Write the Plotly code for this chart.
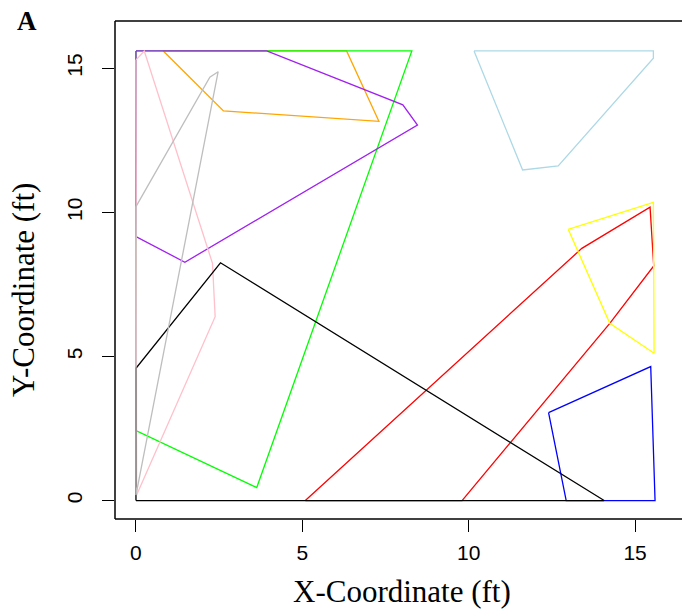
import plotly.graph_objects as go

# ---- data (ft) ----
red_x = [5.09, 13.40, 15.45, 15.56, 14.24, 9.80]
red_y = [0.00, 8.75, 10.18, 8.14, 6.15, 0.00]
yellow_x = [12.99, 15.55, 15.57, 14.24]
yellow_y = [9.41, 10.35, 5.11, 6.15]
blue_x = [12.40, 15.47, 15.60, 12.93]
blue_y = [3.05, 4.65, 0.00, 0.00]
lightblue_x = [10.16, 15.55, 15.55, 12.69, 11.62]
lightblue_y = [15.60, 15.60, 15.35, 11.61, 11.47]
orange_x = [0.82, 6.33, 7.30, 2.63]
orange_y = [15.60, 15.60, 13.16, 13.52]
green_x = [0.00, 8.29, 3.63, 0.00]
green_y = [15.60, 15.60, 0.45, 2.43]
purple_x = [0.00, 3.93, 8.02, 8.46, 1.47, 0.00]
purple_y = [15.60, 15.60, 13.73, 13.03, 8.27, 9.16]
pink_x = [0.00, 0.25, 2.30, 2.38, 0.02]
pink_y = [15.29, 15.60, 8.23, 6.38, 0.19]
black_x = [0.00, 0.00, 2.54, 14.07]
black_y = [0.00, 4.59, 8.25, 0.00]
gray_x = [0.00, 2.22, 2.47, 0.00]
gray_y = [10.20, 14.69, 14.88, 0.19]

polygons = [
    ("red", red_x, red_y, "#FF0000"),
    ("yellow", yellow_x, yellow_y, "#FFFF00"),
    ("blue", blue_x, blue_y, "#0000FF"),
    ("lightblue", lightblue_x, lightblue_y, "#ADD8E6"),
    ("orange", orange_x, orange_y, "#FFA500"),
    ("green", green_x, green_y, "#00FF00"),
    ("purple", purple_x, purple_y, "#A020F0"),
    ("pink", pink_x, pink_y, "#FFC0CB"),
    ("black", black_x, black_y, "#000000"),
    ("gray", gray_x, gray_y, "#BEBEBE"),
]

tick_vals = [0, 5, 10, 15]
tick_text = ["0", "5", "10", "15"]

W, H = 682, 616
L, R, T, B = 115, 0, 21, 97

fig = go.Figure()
for name, xs, ys, col in polygons:
    fig.add_trace(go.Scatter(
        x=xs + [xs[0]], y=ys + [ys[0]], mode="lines", name=name,
        line=dict(color=col, width=1.3), hoverinfo="skip", showlegend=False))

axis_common = dict(
    showgrid=False, zeroline=False, showline=False,
    ticks="outside", ticklen=12, tickwidth=1, tickcolor="black",
    tickvals=tick_vals, ticktext=tick_text,
    tickfont=dict(family="Liberation Sans, Arial, sans-serif", size=21, color="black"),
)

fig.update_layout(
    width=W, height=H,
    margin=dict(l=L, r=R, t=T, b=B, pad=0),
    paper_bgcolor="white", plot_bgcolor="white",
    xaxis=dict(range=[-0.63, 16.41], ticklabelstandoff=3, **axis_common),
    yaxis=dict(range=[-0.64, 16.64], tickangle=-90, ticklabelstandoff=12, **axis_common),
    shapes=[
        dict(type="line", xref="paper", yref="paper", x0=0, x1=1, y0=1, y1=1,
             line=dict(color="black", width=1.5)),
        dict(type="line", xref="paper", yref="paper", x0=0, x1=1, y0=0, y1=0,
             line=dict(color="black", width=1.5)),
        dict(type="line", xref="paper", yref="paper", x0=0, x1=0, y0=0, y1=1,
             line=dict(color="black", width=1.5)),
    ],
)

pw = W - L - R
ph = H - T - B


def px_x(p):
    return (p - L) / pw


def px_y(p):
    return (H - B - p) / ph


serif = "Liberation Serif, DejaVu Serif, serif"
fig.add_annotation(text="X-Coordinate (ft)", xref="paper", yref="paper",
                   x=px_x(402), y=px_y(591), xanchor="center", yanchor="middle",
                   showarrow=False, font=dict(family=serif, size=31, color="black"))
fig.add_annotation(text="Y-Coordinate (ft)", xref="paper", yref="paper",
                   x=px_x(23), y=px_y(290), xanchor="center", yanchor="middle",
                   textangle=-90, showarrow=False,
                   font=dict(family=serif, size=31, color="black"))
fig.add_annotation(text="<b>A</b>", xref="paper", yref="paper",
                   x=px_x(27), y=px_y(21), xanchor="center", yanchor="middle",
                   showarrow=False, font=dict(family=serif, size=27, color="black"))

fig.write_html("out.html",
               config={"displayModeBar": False, "staticPlot": True},
               post_script="document.body.style.margin='0px';document.body.style.overflow='hidden';")
